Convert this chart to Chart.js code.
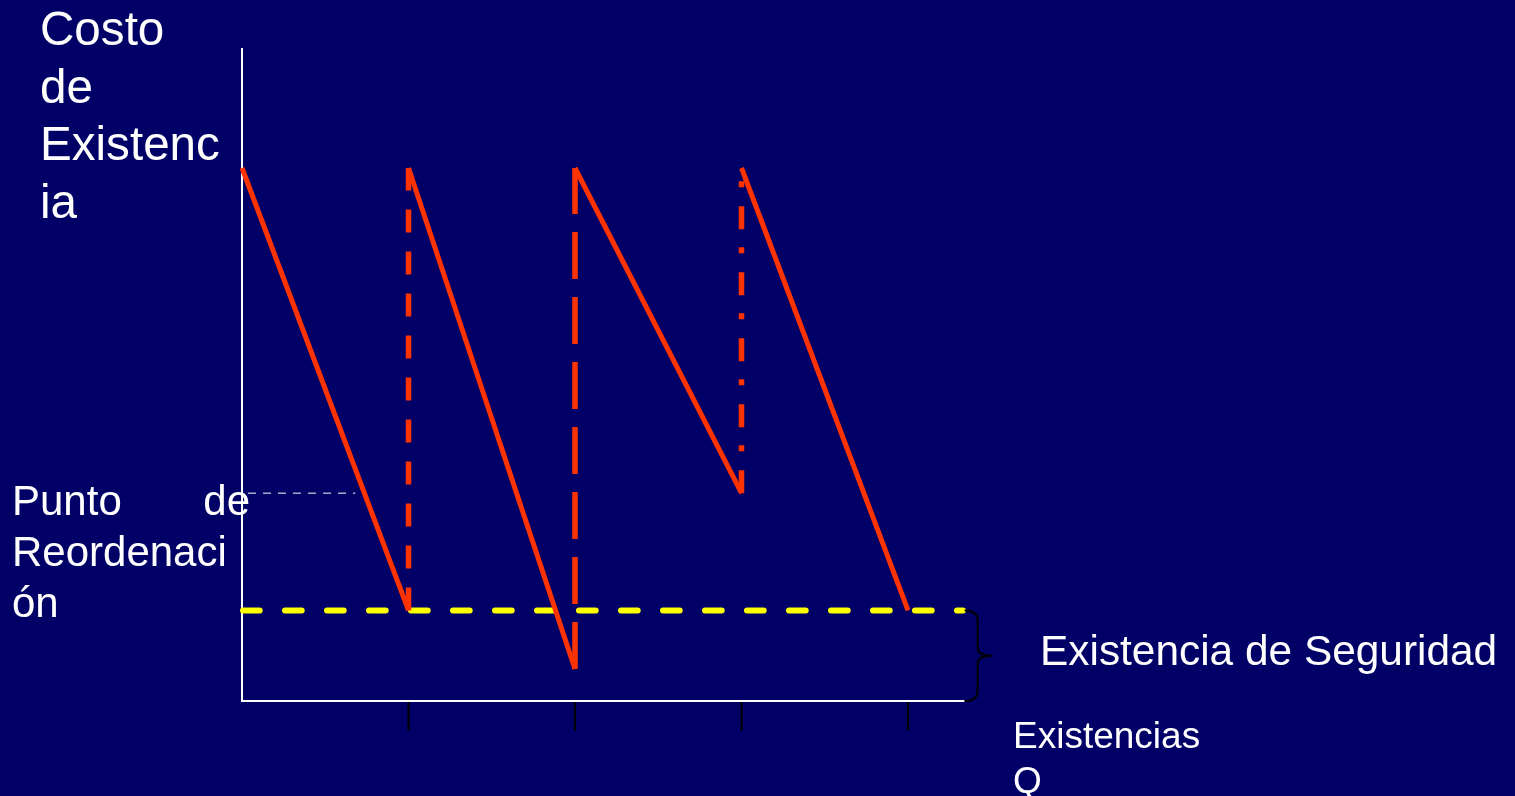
<!DOCTYPE html>
<html lang="es">
<head>
<meta charset="utf-8">
<title>Costo de Existencia</title>
<script src="https://cdn.jsdelivr.net/npm/chart.js@4"></script>
<style>
  html, body { margin: 0; padding: 0; background: #000066; overflow: hidden; }
  #lienzo { position: relative; width: 1515px; height: 796px; }
  #grafico { position: absolute; left: 0; top: 0; }
  .texto { position: absolute; color: #ffffff; font-family: "Liberation Sans", Arial, sans-serif; white-space: nowrap; }
</style>
</head>
<body>
<div id="lienzo">
  <canvas id="grafico" width="1515" height="796"></canvas>
  <div class="texto" style="left:40px; top:0px; font-size:47.6px; line-height:57.7px;">Costo<br>de<br>Existenc<br>ia</div>
  <div class="texto" style="left:12px; top:475px; font-size:42px; line-height:51px;">
    <div style="display:flex; justify-content:space-between; width:238px;"><span>Punto</span><span>de</span></div>Reordenaci<br>ón
  </div>
  <div class="texto" style="left:1040px; top:630px; font-size:42.4px; line-height:1;">Existencia de Seguridad</div>
  <div class="texto" style="left:1013px; top:713px; font-size:37px; line-height:45px;">Existencias<br>Q</div>
</div>
<script>
// niveles de inventario por ciclo
const ciclos = [0, 1, 2, 3, 4];
const maximos = [100, 100, 100, 100];
const minimos = [17, 6, 39, 17];
const existenciaSeguridad = 17;
const puntoReorden = 39;
const marcasX = [1, 2, 3, 4];
const finEjeX = 4.34;
const finEjeY = 122.5;

const rojo = "#FF3300";
const guiones = [[23, 19], [47, 18], [23, 19, 6, 18]];

const datasets = [];

// caidas del inventario (linea continua)
for (let i = 0; i < ciclos.length - 1; i++) {
  datasets.push({
    data: [{ x: ciclos[i], y: maximos[i] }, { x: ciclos[i + 1], y: minimos[i] }],
    borderColor: rojo,
    borderWidth: 5,
    order: 1
  });
}

// reposiciones (verticales discontinuas)
for (let i = 0; i < ciclos.length - 2; i++) {
  datasets.push({
    data: [{ x: ciclos[i + 1], y: minimos[i] }, { x: ciclos[i + 1], y: maximos[i + 1] }],
    borderColor: rojo,
    borderWidth: 5.5,
    borderDash: guiones[i],
    order: 1
  });
}

// existencia de seguridad
datasets.push({
  data: [{ x: 0.006, y: existenciaSeguridad }, { x: 4.33, y: existenciaSeguridad }],
  borderColor: "#FFFF00",
  borderWidth: 6,
  borderDash: [16.7, 25.3],
  borderCapStyle: "round",
  order: 2
});

// punto de reordenacion
datasets.push({
  data: [{ x: 0.036, y: puntoReorden }, { x: 0.68, y: puntoReorden }],
  borderColor: "#FFFFFF",
  borderWidth: 1,
  borderDash: [8, 7],
  order: 2
});

// ejes
datasets.push({
  data: [{ x: 0, y: finEjeY }, { x: 0, y: 0 }, { x: finEjeX, y: 0 }],
  borderColor: "#FFFFFF",
  borderWidth: 2,
  order: 3
});

// marcas bajo el eje x
marcasX.forEach(m => {
  datasets.push({
    data: [{ x: m, y: 0 }, { x: m, y: -5.6 }],
    borderColor: "#000000",
    borderWidth: 2,
    order: 3
  });
});

datasets.forEach(d => {
  d.showLine = true;
  d.fill = false;
  d.pointRadius = 0;
  d.tension = 0;
});

const llave = {
  id: "llave",
  afterDatasetsDraw(chart) {
    const { ctx, scales: { x, y } } = chart;
    const x0 = x.getPixelForValue(finEjeX);
    const arriba = y.getPixelForValue(existenciaSeguridad);
    const abajo = y.getPixelForValue(0);
    const medio = (arriba + abajo) / 2;
    ctx.save();
    ctx.strokeStyle = "#000000";
    ctx.lineWidth = 2;
    ctx.beginPath();
    ctx.moveTo(x0, arriba);
    ctx.quadraticCurveTo(x0 + 13, arriba, x0 + 13, arriba + 10);
    ctx.lineTo(x0 + 13, medio - 8);
    ctx.quadraticCurveTo(x0 + 13, medio, x0 + 28, medio);
    ctx.quadraticCurveTo(x0 + 13, medio, x0 + 13, medio + 8);
    ctx.lineTo(x0 + 13, abajo - 10);
    ctx.quadraticCurveTo(x0 + 13, abajo, x0, abajo);
    ctx.stroke();
    ctx.restore();
  }
};

new Chart(document.getElementById("grafico"), {
  type: "scatter",
  data: { datasets: datasets },
  options: {
    responsive: false,
    animation: false,
    events: [],
    layout: { padding: 0 },
    plugins: { legend: { display: false }, tooltip: { enabled: false } },
    scales: {
      x: { type: "linear", min: -1.4535, max: 7.6456, display: false },
      y: { type: "linear", min: -17.82, max: 131.52, display: false }
    }
  },
  plugins: [llave]
});
</script>
</body>
</html>
